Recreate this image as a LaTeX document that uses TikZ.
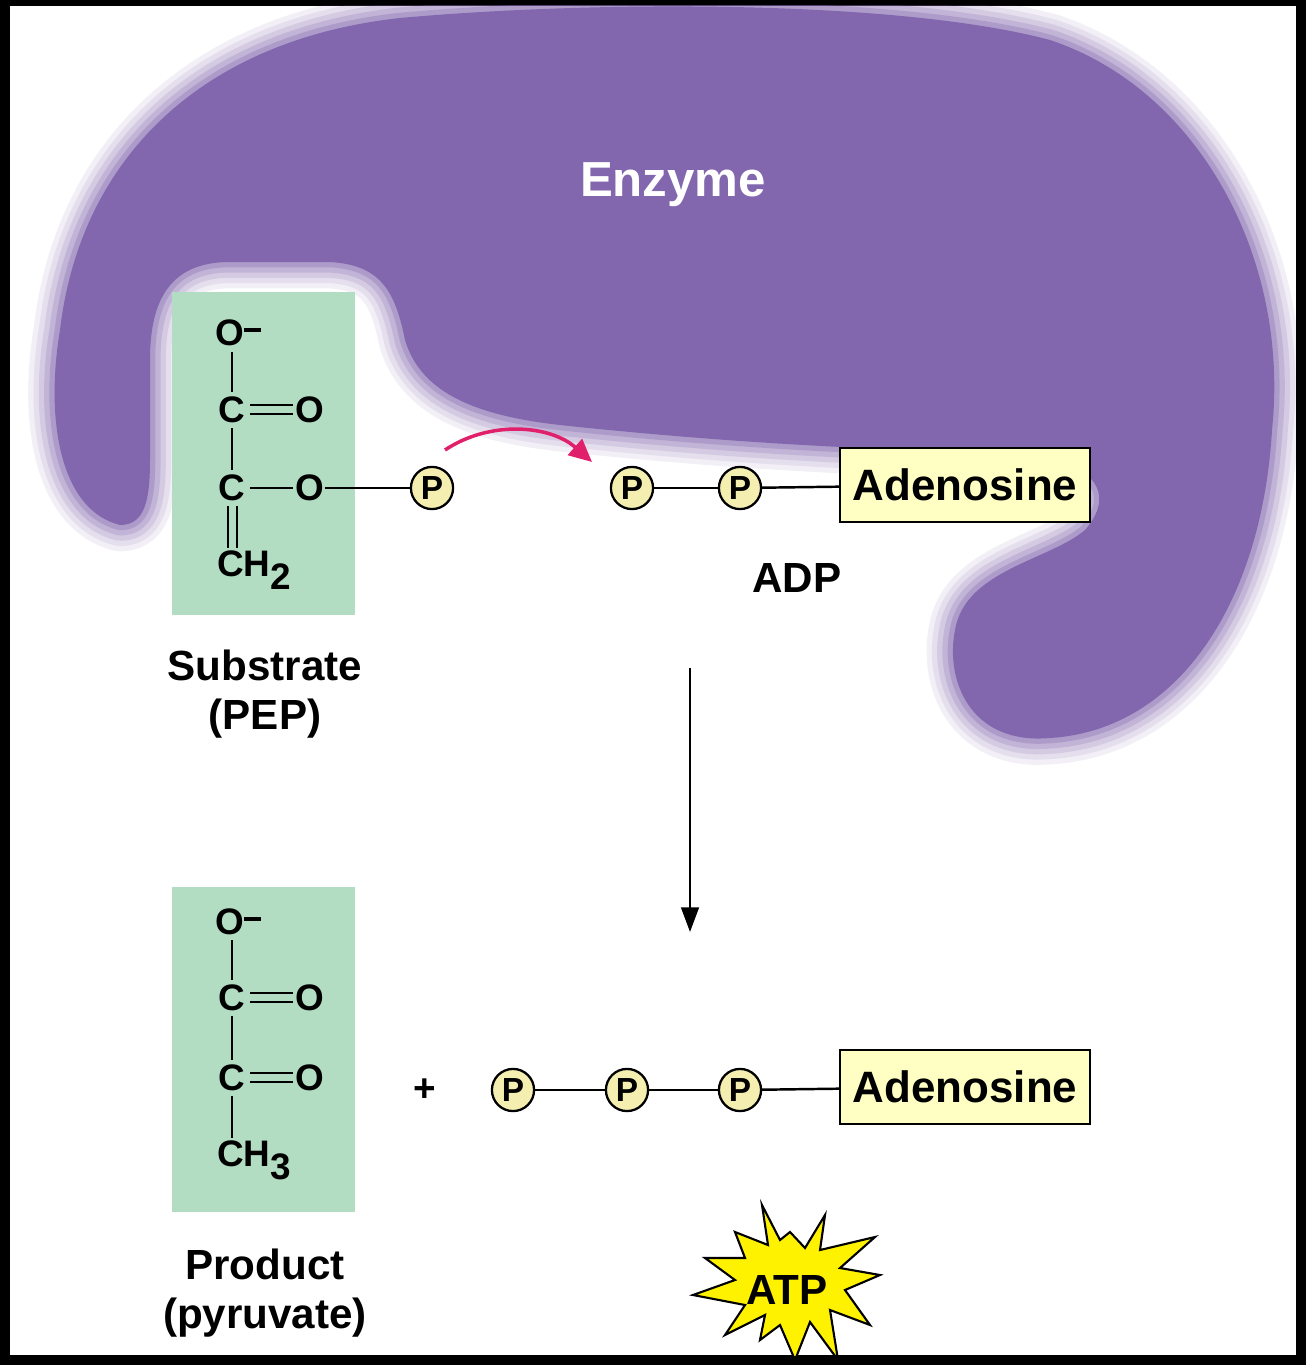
\documentclass[tikz,border=0pt]{standalone}
\usepackage{fontspec}
\setmainfont{Liberation Sans}
\usetikzlibrary{arrows.meta}
\definecolor{enz}{HTML}{8267AE}
\definecolor{grn}{HTML}{B3DDC2}
\definecolor{ylw}{HTML}{FFFFC4}
\definecolor{pcol}{HTML}{F4EFB0}
\definecolor{pink}{HTML}{E0206A}
\begin{document}
\begin{tikzpicture}[x=0.02cm,y=-0.02cm,
  chem/.style={font=\fontsize{21}{21}\selectfont\bfseries,inner sep=0pt},
  lab/.style={font=\fontsize{24}{28}\selectfont\bfseries,align=center},
  pc/.style={circle,draw,line width=1.3pt,fill=pcol,minimum size=24pt,inner sep=0pt,font=\fontsize{19}{19}\selectfont\bfseries},
  ade/.style={draw,line width=1.2pt,fill=ylw,minimum width=250*0.02cm,minimum height=74*0.02cm,font=\fontsize{25}{25}\selectfont\bfseries},
  bond/.style={line width=1.4pt}]
\useasboundingbox (0,0) rectangle (1306,1365);
\fill[black] (0,0) rectangle (1306,1365);
\fill[white] (10,6) rectangle (1296,1355);
% enzyme
\def\enzpath{(120,525) .. controls (60,510) and (45,420) .. (60,330)
 .. controls (80,160) and (200,40) .. (400,18)
 .. controls (600,0) and (900,0) .. (1050,40)
 .. controls (1200,90) and (1290,260) .. (1272,430)
 .. controls (1262,600) and (1180,730) .. (1050,738)
 .. controls (970,745) and (945,680) .. (955,630)
 .. controls (965,570) and (1050,560) .. (1085,530)
 .. controls (1120,490) and (1090,455) .. (1000,452)
 .. controls (850,450) and (700,440) .. (560,425)
 .. controls (470,415) and (420,390) .. (405,340)
 .. controls (395,290) and (380,265) .. (330,262)
 -- (230,262) .. controls (170,262) and (150,300) .. (150,360)
 -- (150,460) .. controls (150,500) and (145,525) .. (120,525) -- cycle}
\begin{scope}
\clip (10,6) rectangle (1296,1355);
\foreach \w/\o in {30/0.1,24/0.12,18/0.16,12/0.22,6/0.3}{
  \draw[enz,opacity=\o,line width=\w pt,line join=round] \enzpath;}
\fill[enz] \enzpath;
\end{scope}
\node[font=\fontsize{28}{28}\selectfont\bfseries,text=white] (enzyme) at (673,185) {Enzyme};
% substrate
\fill[grn] (172,292) rectangle (355,615);
\node[chem] (o1) at (238,333) {O\raisebox{0.7ex}{\rule{0.45em}{2.2pt}}};
\node[chem] (c1) at (232,410) {C};
\node[chem] (o2) at (310,410) {O};
\node[chem] (c2) at (232,488) {C};
\node[chem] (o3) at (310,488) {O};
\node[chem,anchor=west] (ch2) at (217,570) {CH\textsubscript{\fontsize{21}{21}\selectfont 2}};
\draw[bond] (232,352) -- (232,392);
\draw[bond] (232,428) -- (232,470);
\draw[bond] (228,506) -- (228,548) (237,506) -- (237,548);
\draw[bond] (250,405) -- (293,405) (250,414) -- (293,414);
\draw[bond] (250,488) -- (293,488);
\node[pc] (p0) at (432,488) {P};
\draw[bond] (o3) -- (p0);
\draw[pink,line width=2pt,-{Triangle[length=13pt,width=12pt]}] (445,450) .. controls (490,420) and (550,425) .. (592,462);
\node[pc] (p1) at (632,488) {P};
\node[pc] (p2) at (740,488) {P};
\node[ade] (a1) at (965,485) {Adenosine};
\draw[bond] (p1) -- (p2); \draw[bond] (p2) -- (a1);
\node[lab] (adp) at (797,578) {ADP};
\node[lab] (sub) at (265,694) {Substrate\\(PEP)};
\coordinate (ar1) at (690,668); \coordinate (ar2) at (690,932);
\draw[line width=1.5pt,-{Triangle[length=14pt,width=10pt]}] (ar1) -- (ar2);
% product
\fill[grn] (172,887) rectangle (355,1212);
\node[chem] (q1) at (238,922) {O\raisebox{0.7ex}{\rule{0.45em}{2.2pt}}};
\node[chem] (d1) at (232,998) {C};
\node[chem] (q2) at (310,998) {O};
\node[chem] (d2) at (232,1078) {C};
\node[chem] (q3) at (310,1078) {O};
\node[chem,anchor=west] (ch3) at (217,1160) {CH\textsubscript{\fontsize{21}{21}\selectfont 3}};
\draw[bond] (232,940) -- (232,980);
\draw[bond] (232,1016) -- (232,1060);
\draw[bond] (232,1096) -- (232,1138);
\draw[bond] (250,993) -- (293,993) (250,1002) -- (293,1002);
\draw[bond] (250,1073) -- (293,1073) (250,1082) -- (293,1082);
\node[font=\fontsize{22}{22}\selectfont\bfseries] (plus) at (425,1090) {+};
\node[pc] (r1) at (513,1090) {P};
\node[pc] (r2) at (627,1090) {P};
\node[pc] (r3) at (740,1090) {P};
\node[ade] (a2) at (965,1087) {Adenosine};
\draw[bond] (r1) -- (r2); \draw[bond] (r2) -- (r3); \draw[bond] (r3) -- (a2);
\node[lab] (prod) at (265,1293) {Product\\(pyruvate)};
% ATP star
\begin{scope}
\clip (10,6) rectangle (1296,1355);
\fill[yellow,draw=black,line width=1.2pt,line join=miter]
 (762,1205) -- (780,1240) -- (790,1232) -- (805,1248) -- (825,1215) -- (820,1250)
 -- (875,1237) -- (840,1268) -- (880,1275) -- (845,1290) -- (870,1325)
 -- (830,1310) -- (838,1360) -- (810,1322) -- (795,1360) -- (780,1325)
 -- (760,1340) -- (765,1315) -- (725,1335) -- (745,1305) -- (693,1295)
 -- (735,1280) -- (705,1258) -- (745,1258) -- (735,1232) -- (768,1245) -- cycle;
\end{scope}
\node[font=\fontsize{24}{24}\selectfont\bfseries] (atp) at (787,1290) {ATP};
\end{tikzpicture}
\end{document}
